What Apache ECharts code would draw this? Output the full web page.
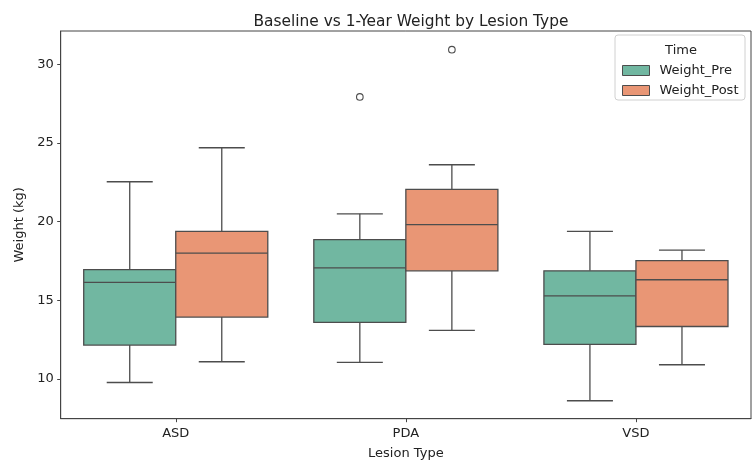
<!DOCTYPE html>
<html>
<head>
<meta charset="utf-8">
<script src="https://cdn.jsdelivr.net/npm/echarts@6/dist/echarts.min.js"></script>
<style>html,body{margin:0;padding:0;background:#fff;}#c{width:753px;height:462px;}</style>
</head>
<body>
<div id="c"></div>
<script>
// ---- data ----
const categories = ['ASD', 'PDA', 'VSD'];
// [lowerWhisker, Q1, median, Q3, upperWhisker]
const preStats = [
  [9.78, 12.16, 16.14, 16.95, 22.54],
  [11.06, 13.60, 17.06, 18.86, 20.50],
  [8.62, 12.20, 15.28, 16.88, 19.38]
];
const postStats = [
  [11.10, 13.94, 18.00, 19.38, 24.70],
  [13.09, 16.88, 19.81, 22.05, 23.62],
  [10.91, 13.34, 16.31, 17.52, 18.20]
];
const preOutliers = [['PDA', 27.93]];
const postOutliers = [['PDA', 30.93]];
const yTicks = [10, 15, 20, 25, 30];

const PRE_COLOR = '#71b7a1';
const POST_COLOR = '#e99675';
const LINE = '#4d4d4d';
const FONT = 'DejaVu Sans';

function boxRender(sign, color) {
  return function (params, api) {
    const cat = api.value(0);
    const band = api.size([1, 0])[0];
    const w = band * 0.4;
    const cx = api.coord([cat, 0])[0] + sign * w / 2;
    const y = i => api.coord([cat, api.value(i)])[1];
    const lo = y(1), q1 = y(2), med = y(3), q3 = y(4), hi = y(5);
    const cap = w * 0.5;
    const ls = { stroke: LINE, lineWidth: 1.3 };
    return {
      type: 'group',
      children: [
        { type: 'line', shape: { x1: cx, y1: lo, x2: cx, y2: q1 }, style: ls },
        { type: 'line', shape: { x1: cx, y1: q3, x2: cx, y2: hi }, style: ls },
        { type: 'line', shape: { x1: cx - cap / 2, y1: lo, x2: cx + cap / 2, y2: lo }, style: ls },
        { type: 'line', shape: { x1: cx - cap / 2, y1: hi, x2: cx + cap / 2, y2: hi }, style: ls },
        { type: 'rect', shape: { x: cx - w / 2, y: q3, width: w, height: q1 - q3 }, style: { fill: color, stroke: LINE, lineWidth: 1.3 } },
        { type: 'line', shape: { x1: cx - w / 2, y1: med, x2: cx + w / 2, y2: med }, style: ls }
      ]
    };
  };
}
function outlierRender(sign) {
  return function (params, api) {
    const cat = api.value(0);
    const band = api.size([1, 0])[0];
    const w = band * 0.4;
    const p = api.coord([cat, api.value(1)]);
    return { type: 'circle', shape: { cx: p[0] + sign * w / 2, cy: p[1], r: 3.3 }, style: { fill: 'none', stroke: LINE, lineWidth: 1.1 } };
  };
}

const chart = echarts.init(document.getElementById('c'), null, { renderer: 'canvas' });
chart.setOption({
  backgroundColor: '#fff',
  animation: false,
  title: {
    text: 'Baseline vs 1-Year Weight by Lesion Type',
    left: 406, top: 9, textAlign: 'center',
    textStyle: { fontFamily: FONT, fontSize: 15.4, fontWeight: 'normal', color: '#222' }
  },
  grid: { left: 60.7, right: 2, top: 31, bottom: 43.3, outerBoundsMode: 'none', containLabel: false, show: true, borderColor: '#444', borderWidth: 1, backgroundColor: 'transparent' },
  legend: {
    orient: 'vertical', left: 622, top: 63,
    itemWidth: 27, itemHeight: 10, itemGap: 5, padding: 0,
    textStyle: { fontFamily: FONT, fontSize: 13, color: '#222', lineHeight: 15, padding: [0, 0, 0, 5] },
    data: [
      { name: 'Weight_Pre', icon: 'rect', itemStyle: { color: PRE_COLOR, borderColor: LINE, borderWidth: 1 } },
      { name: 'Weight_Post', icon: 'rect', itemStyle: { color: POST_COLOR, borderColor: LINE, borderWidth: 1 } }
    ],
    z: 10
  },
  graphic: [
    { type: 'rect', z: 5, shape: { x: 615, y: 35, width: 130, height: 65, r: 3 }, style: { fill: 'rgba(255,255,255,0.85)', stroke: '#d0d0d0', lineWidth: 1 } },
    { type: 'text', z: 6, x: 681, y: 50.7, style: { text: 'Time', fontFamily: FONT, fontSize: 13, fill: '#222', align: 'center', verticalAlign: 'middle' } }
  ],
  xAxis: {
    type: 'category', data: categories,
    name: 'Lesion Type', nameLocation: 'middle', nameGap: 28,
    nameTextStyle: { fontFamily: FONT, fontSize: 13, color: '#222' },
    axisLine: { show: true, lineStyle: { color: '#444', width: 1 } },
    axisTick: { show: true, alignWithLabel: true, length: 3.5, lineStyle: { color: '#444' } },
    axisLabel: { fontFamily: FONT, fontSize: 13, color: '#222', margin: 8 },
    splitLine: { show: false }
  },
  yAxis: {
    type: 'value', min: 7.48, max: 32.12,
    name: 'Weight (kg)', nameLocation: 'middle', nameGap: 33,
    nameTextStyle: { fontFamily: FONT, fontSize: 13, color: '#222' },
    axisLine: { show: true, lineStyle: { color: '#444', width: 1 } },
    axisTick: { show: true, length: 3.5, customValues: yTicks, lineStyle: { color: '#444' } },
    axisLabel: { fontFamily: FONT, fontSize: 13, color: '#222', margin: 7, customValues: yTicks },
    splitLine: { show: false }
  },
  series: [
    { name: 'Weight_Pre', type: 'custom', itemStyle: { color: PRE_COLOR },
      renderItem: boxRender(-1, PRE_COLOR), encode: { x: 0, y: [1, 2, 3, 4, 5] },
      data: preStats.map((s, i) => [i].concat(s)) },
    { name: 'Weight_Post', type: 'custom', itemStyle: { color: POST_COLOR },
      renderItem: boxRender(1, POST_COLOR), encode: { x: 0, y: [1, 2, 3, 4, 5] },
      data: postStats.map((s, i) => [i].concat(s)) },
    { name: 'Pre outliers', type: 'custom', renderItem: outlierRender(-1), encode: { x: 0, y: 1 },
      data: preOutliers.map(o => [categories.indexOf(o[0]), o[1]]) },
    { name: 'Post outliers', type: 'custom', renderItem: outlierRender(1), encode: { x: 0, y: 1 },
      data: postOutliers.map(o => [categories.indexOf(o[0]), o[1]]) }
  ]
});
</script>
</body>
</html>
